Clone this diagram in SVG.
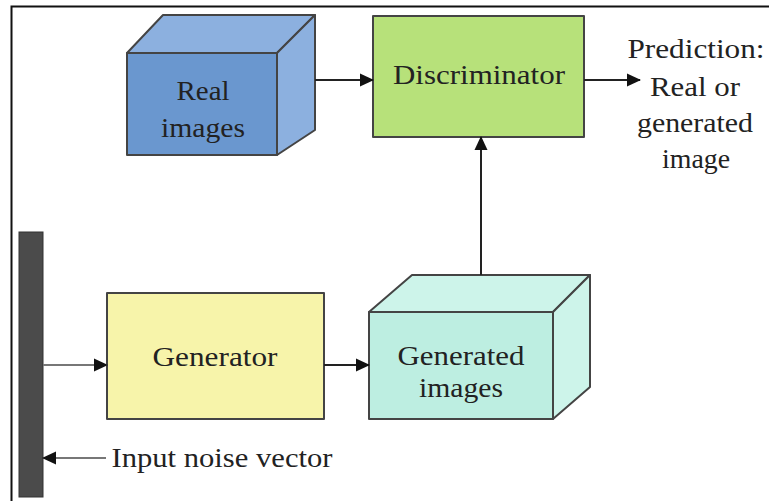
<svg xmlns="http://www.w3.org/2000/svg" width="769" height="501" viewBox="0 0 769 501">
<defs>
<style>
.t{font-family:"Liberation Serif","Times New Roman",serif;font-size:28px;fill:#222;text-anchor:middle}
.edge{stroke:#222;stroke-width:2;fill:none}
.gray{stroke:#777}
.box{stroke:#444;stroke-width:2;stroke-linejoin:round}
</style>
<marker id="ah" markerWidth="14" markerHeight="14" refX="13" refY="7" orient="auto" markerUnits="userSpaceOnUse">
<path d="M0,0.5 L14,7 L0,13.5 Z" fill="#111"/>
</marker>
</defs>
<rect width="769" height="501" fill="#fff"/>
<path d="M11.5,501 V6.5 H769" stroke="#111" stroke-width="2" fill="none"/>

<g id="noise-bar">
<rect x="19" y="232" width="24" height="265" fill="#4b4b4b" stroke="#333" stroke-width="1"/>
</g>

<g id="real-images">
<polygon class="box" points="127,53 163,15 315,15 277,53" fill="#8cb0df"/>
<polygon class="box" points="277,53 315,15 315,130 277,155" fill="#8cb0df"/>
<rect class="box" x="127" y="53" width="150" height="102" fill="#6a97cf"/>
<text class="t" x="203" y="100" textLength="53" lengthAdjust="spacingAndGlyphs">Real</text>
<text class="t" x="203" y="137" textLength="84" lengthAdjust="spacingAndGlyphs">images</text>
</g>

<g id="discriminator">
<rect class="box" x="373" y="16" width="211" height="121" fill="#b7e17a"/>
<text class="t" x="479" y="84" textLength="172" lengthAdjust="spacingAndGlyphs">Discriminator</text>
</g>

<g id="prediction">
<text class="t" x="696" y="58" textLength="137" lengthAdjust="spacingAndGlyphs">Prediction:</text>
<text class="t" x="695" y="96" textLength="90" lengthAdjust="spacingAndGlyphs">Real or</text>
<text class="t" x="695" y="132" textLength="116" lengthAdjust="spacingAndGlyphs">generated</text>
<text class="t" x="696" y="168" textLength="68" lengthAdjust="spacingAndGlyphs">image</text>
</g>

<g id="generator">
<rect class="box" x="107" y="293" width="217" height="126" fill="#f7f4aa" stroke="#777"/>
<text class="t" x="215" y="366" textLength="125" lengthAdjust="spacingAndGlyphs">Generator</text>
</g>

<g id="generated-images">
<polygon class="box" points="369,312 412,275 590,275 553,312" fill="#cdf4ea"/>
<polygon class="box" points="553,312 590,275 590,387 553,419" fill="#cdf4ea"/>
<rect class="box" x="369" y="312" width="184" height="107" fill="#bdeee1"/>
<text class="t" x="461" y="365" textLength="127" lengthAdjust="spacingAndGlyphs">Generated</text>
<text class="t" x="461" y="397" textLength="84" lengthAdjust="spacingAndGlyphs">images</text>
</g>

<g id="input-label">
<text class="t" x="222" y="467" textLength="221" lengthAdjust="spacingAndGlyphs">Input noise vector</text>
</g>

<g id="connectors">
<line class="edge" x1="315" y1="80" x2="373" y2="80" marker-end="url(#ah)"/>
<line class="edge" x1="584" y1="80" x2="640" y2="80" marker-end="url(#ah)"/>
<line class="edge" x1="481" y1="275" x2="481" y2="137" marker-end="url(#ah)"/>
<line class="edge gray" x1="43" y1="365" x2="107" y2="365" marker-end="url(#ah)"/>
<line class="edge" x1="324" y1="365" x2="369" y2="365" marker-end="url(#ah)"/>
<line class="edge gray" x1="106" y1="458" x2="43" y2="458" marker-end="url(#ah)"/>
</g>
</svg>
